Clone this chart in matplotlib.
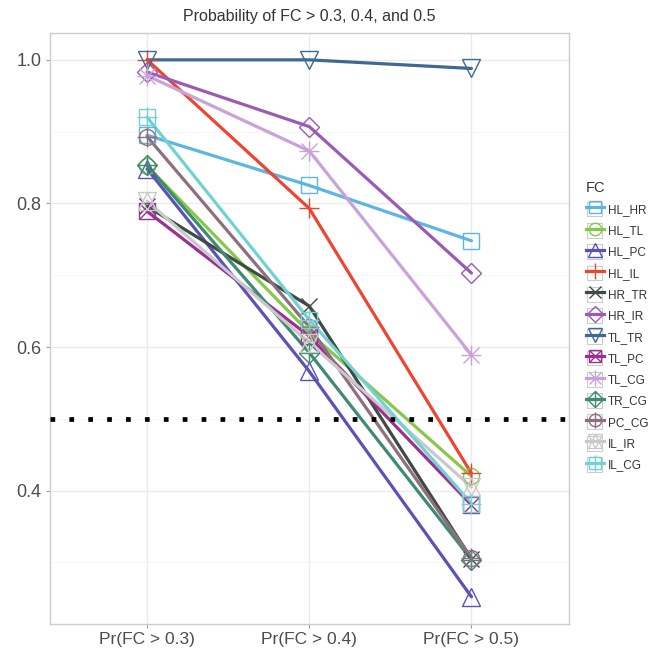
import matplotlib
matplotlib.use("Agg")
import matplotlib.pyplot as plt
from matplotlib.lines import Line2D
from matplotlib.patches import Rectangle
from matplotlib.legend_handler import HandlerTuple
import numpy as np

plt.rcParams['font.family'] = ['Liberation Sans', 'DejaVu Sans']

title = "Probability of FC > 0.3, 0.4, and 0.5"
x_labels = ["Pr(FC > 0.3)", "Pr(FC > 0.4)", "Pr(FC > 0.5)"]
legend_title = "FC"
threshold = 0.5

series_names = ["HL_HR", "HL_TL", "HL_PC", "HL_IL", "HR_TR", "HR_IR", "TL_TR",
                "TL_PC", "TL_CG", "TR_CG", "PC_CG", "IL_IR", "IL_CG"]

HL_HR = [0.895, 0.825, 0.748]
HL_TL = [0.852, 0.620, 0.420]
HL_PC = [0.848, 0.566, 0.252]
HL_IL = [1.000, 0.793, 0.424]
HR_TR = [0.796, 0.657, 0.305]
HR_IR = [0.983, 0.907, 0.703]
TL_TR = [1.000, 1.000, 0.988]
TL_PC = [0.789, 0.615, 0.380]
TL_CG = [0.978, 0.873, 0.589]
TR_CG = [0.853, 0.592, 0.304]
PC_CG = [0.893, 0.628, 0.306]
IL_IR = [0.803, 0.606, 0.405]
IL_CG = [0.920, 0.638, 0.382]

values = [HL_HR, HL_TL, HL_PC, HL_IL, HR_TR, HR_IR, TL_TR,
          TL_PC, TL_CG, TR_CG, PC_CG, IL_IR, IL_CG]

colors = ["#5BB6E0", "#86C84A", "#5A52B5", "#EE4530", "#3F4A42", "#9B5BB4",
          "#3E6992", "#9A3190", "#C9A2DA", "#3D8C70", "#8E6F80", "#C9C9CD", "#72D2D2"]

# shape composites (ggplot shapes 0..12)
shapes = [["s"], ["o"], ["^"], ["+"], ["x"], ["D"], ["v"],
          ["s", "x"], ["+", "x"], ["D", "+"], ["o", "+"], ["^", "v"], ["s", "+"]]
shape_size = {"s": 11.5, "o": 11.5, "^": 12.5, "v": 12.5, "+": 15, "x": 11.5, "D": 10}


class BoxedTupleHandler(HandlerTuple):
    def create_artists(self, legend, orig_handle, xdescent, ydescent, width,
                       height, fontsize, trans):
        side = min(width, height)
        x0 = -xdescent + (width - side) / 2
        y0 = -ydescent + (height - side) / 2
        rect = Rectangle((x0, y0), side, side, facecolor='white',
                         edgecolor='#CCCCCC', lw=0.8, transform=trans)
        arts = super().create_artists(legend, orig_handle, xdescent, ydescent,
                                      width, height, fontsize, trans)
        return [rect] + arts


fig = plt.figure(figsize=(6.56, 6.60), dpi=100)
ax = fig.add_axes([0.076, 0.055, 0.791, 0.895])

xs = np.arange(len(x_labels))
handles = []
for name, vals, col, shp in zip(series_names, values, colors, shapes):
    ax.plot(xs, vals, color=col, lw=2.3, zorder=3, solid_capstyle='round')
    parts = [Line2D([], [], color=col, lw=2.3)]
    for m in shp:
        ax.plot(xs, vals, linestyle='none', marker=m, markersize=shape_size[m],
                markerfacecolor='none', markeredgecolor=col, markeredgewidth=1.0,
                zorder=4)
        parts.append(Line2D([], [], linestyle='none', marker=m,
                            markersize=shape_size[m] * 0.78, markerfacecolor='none',
                            markeredgecolor=col, markeredgewidth=1.0))
    handles.append(tuple(parts))

ax.axhline(threshold, color='black', lw=3.4, linestyle=(0, (1, 3)),
           dash_capstyle='butt', zorder=5)

vmin = min(min(v) for v in values)
vmax = max(max(v) for v in values)
rng = vmax - vmin
ax.set_ylim(vmin - 0.05 * rng, vmax + 0.05 * rng)
ax.set_xlim(-0.6, len(x_labels) - 1 + 0.6)

ax.set_xticks(xs)
ax.set_xticklabels(x_labels)
ax.set_yticks([0.4, 0.6, 0.8, 1.0])
ax.set_yticklabels(["0.4", "0.6", "0.8", "1.0"])
ax.set_yticks([0.3, 0.5, 0.7, 0.9], minor=True)
ax.set_xticks([], minor=True)

ax.grid(True, which='major', color='#EBEBEB', lw=1.0, zorder=0)
ax.grid(True, which='minor', axis='y', color='#F5F5F5', lw=0.6, zorder=0)
ax.set_axisbelow(True)
for s in ax.spines.values():
    s.set_color('#CCCCCC')
    s.set_linewidth(1.0)
ax.tick_params(axis='both', which='major', colors='#333333', labelsize=13,
               length=3, width=0.8, color='#999999', pad=3)
ax.tick_params(axis='y', which='minor', length=0)
ax.tick_params(axis='x', labelsize=12.5)
for lab in ax.get_xticklabels() + ax.get_yticklabels():
    lab.set_color('#4D4D4D')

ax.set_title(title, fontsize=11.5, color='#333333', pad=9)

leg = fig.legend(handles, series_names, title=legend_title,
                 handler_map={tuple: BoxedTupleHandler(ndivide=1, pad=0)},
                 loc='upper left', bbox_to_anchor=(0.880, 0.738),
                 frameon=False, fontsize=8.5, title_fontsize=10.5,
                 handlelength=1.55, handleheight=1.55, labelspacing=0.55,
                 handletextpad=0.35, borderpad=0.2, alignment='left')
leg.get_title().set_color('#333333')
for t in leg.get_texts():
    t.set_color('#333333')

fig.savefig("out.png", dpi=100, facecolor='white')
